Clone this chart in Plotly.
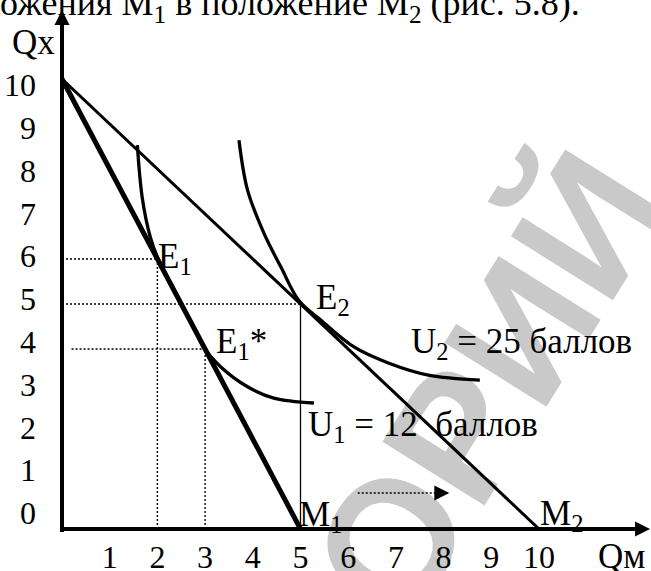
import plotly.graph_objects as go

# --- данные ---
# бюджетные линии
m1_x = [0, 5]
m1_y = [10, 0]
m2_x = [0, 10]
m2_y = [10, 0]

# кривые безразличия
u1_x = [1.58, 1.68, 1.85, 2.0, 2.34, 2.76, 2.97, 3.33, 3.89, 4.44, 5.28]
u1_y = [8.53, 7.38, 6.49, 6.04, 5.31, 4.49, 4.04, 3.6, 3.16, 2.91, 2.8]
u2_x = [3.71, 3.89, 4.23, 4.59, 4.97, 5.43, 6.13, 6.84, 7.68, 8.76]
u2_y = [8.64, 7.53, 6.58, 5.82, 5.07, 4.64, 4.04, 3.69, 3.42, 3.31]

# точки равновесия
e1 = (2, 6)
e1s = (3, 4)
e2 = (5, 5)

# пунктирная стрелка сдвига M1 -> M2
shift_x = [6.2, 8.1]
shift_y = [0.8, 0.8]

x_ticks = [1, 2, 3, 4, 5, 6, 7, 8, 9, 10]
y_ticks = [0, 1, 2, 3, 4, 5, 6, 7, 8, 9, 10]

# --- геометрия картинки (пиксели) ---
W, H = 651, 571
ML, MB = 45, 33
X0_PX, UX = 62, 47.7      # где X=0 и сколько px на единицу
Y0_PX, UY = 529, 45.0     # где Y=0
LBL0_PX, LUY = 513, 42.8  # подписи оси Qx немного «уплывают» вверх

plot_bottom = H - MB
plot_w = W - ML
x_range = [(ML - X0_PX) / UX, (W - X0_PX) / UX]
y_range = [(Y0_PX - plot_bottom) / UY, Y0_PX / UY]
y2_range = [(LBL0_PX - plot_bottom) / LUY, LBL0_PX / LUY]

def px_x(p):
    return (p - ML) / plot_w

def px_y(p):
    return 1 - p / plot_bottom

FONT = '"Liberation Serif", "Times New Roman", Tinos, serif'
BLACK = "black"
FS_TICK = 32
FS_LBL = 35

fig = go.Figure()

def line(x, y, width, dash=None, shape="linear"):
    fig.add_trace(go.Scatter(x=x, y=y, mode="lines", hoverinfo="skip",
                             line=dict(color=BLACK, width=width, dash=dash, shape=shape)))

# вспомогательные пунктиры
dots = "2px,2px"
line([0, e1[0]], [e1[1], e1[1]], 1.4, dots)
line([e1[0], e1[0]], [0, e1[1]], 1.4, dots)
line([0, e2[0]], [e2[1], e2[1]], 1.4, dots)
line([0.2, e1s[0]], [e1s[1], e1s[1]], 1.4, dots)
line([e1s[0], e1s[0]], [0, e1s[1]], 1.4, dots)
line([e2[0], e2[0]], [0, e2[1]], 1.3)
line(shift_x, shift_y, 1.4, dots)

# бюджетные линии и кривые безразличия
line(m2_x, m2_y, 3)
line(m1_x, m1_y, 5)
line(u1_x, u1_y, 3.3, shape="spline")
line(u2_x, u2_y, 3.3, shape="spline")

ann = []

def label(x, y, text, ref="", anchor="left"):
    ann.append(dict(x=x, y=y, xref=ref or "x", yref=ref or "y", text=text, showarrow=False,
                    xanchor=anchor, yanchor="middle",
                    font=dict(family=FONT, size=FS_LBL, color=BLACK)))

label(1.98, 6.02, "E<sub>1</sub>")
label(3.18, 4.13, "E<sub>1</sub>*")
label(5.28, 5.09, "E<sub>2</sub>")
label(7.28, 4.13, "U<sub>2</sub> = 25 баллов")
label(5.12, 2.27, "U<sub>1</sub> = 12 \u00a0баллов")
label(4.93, 0.27, "M<sub>1</sub>")
label(9.98, 0.29, "M<sub>2</sub>")
label(px_x(596), px_y(556), "Qм", ref="paper")
label(px_x(33), px_y(43), "Qx", ref="paper", anchor="center")

# оси со стрелками
ann.append(dict(x=0, y=(Y0_PX - 10) / UY, ax=0, ay=-0.1, xref="x", yref="y",
                axref="x", ayref="y", text="", showarrow=True, arrowhead=2,
                arrowsize=0.75, arrowwidth=4, arrowcolor=BLACK, standoff=0))
ann.append(dict(x=(W - X0_PX) / UX - 0.02, y=0, ax=-0.05, ay=0, xref="x", yref="y",
                axref="x", ayref="y", text="", showarrow=True, arrowhead=2,
                arrowsize=0.75, arrowwidth=4, arrowcolor=BLACK, standoff=0))
# наконечник пунктирной стрелки
ann.append(dict(x=shift_x[1] + 0.02, y=shift_y[1], ax=shift_x[1] - 0.3, ay=shift_y[1],
                xref="x", yref="y", axref="x", ayref="y", text="", showarrow=True,
                arrowhead=2, arrowsize=2, arrowwidth=1.5, arrowcolor=BLACK, standoff=0))

# обрезанная строка текста над рисунком
ann.append(dict(x=px_x(-2), y=px_y(30), xref="paper", yref="paper",
                text="ожения M<sub>1</sub> в положение M<sub>2</sub> (рис. 5.8).",
                showarrow=False, xanchor="left", yanchor="bottom",
                font=dict(family=FONT, size=36, color=BLACK)))

# водяной знак
ann.append(dict(x=px_x(488), y=px_y(385), xref="paper", yref="paper",
                xanchor="center", yanchor="middle",
                text="<b>ОРИЙ</b>", showarrow=False, textangle=-58,
                font=dict(family="Liberation Sans", size=175, color="rgba(0,0,0,0.21)")))

fig.update_layout(
    width=W, height=H,
    margin=dict(l=ML, r=0, t=0, b=MB, autoexpand=False),
    paper_bgcolor="white", plot_bgcolor="white",
    showlegend=False,
    annotations=ann,
    xaxis=dict(range=x_range, showgrid=False, zeroline=False, showline=False,
               automargin=False,
               tickvals=x_ticks, ticktext=[str(v) for v in x_ticks], ticks="",
               ticklabelstandoff=-3,
               tickfont=dict(family=FONT, size=FS_TICK, color=BLACK)),
    yaxis=dict(range=y_range, showgrid=False, zeroline=False, showline=False,
               automargin=False, showticklabels=False),
    yaxis2=dict(range=y2_range, overlaying="y", side="left", showgrid=False,
                zeroline=False, showline=False, automargin=False, tickvals=y_ticks,
                ticktext=[str(v) for v in y_ticks], ticks="",
                ticklabelstandoff=8,
                tickfont=dict(family=FONT, size=FS_TICK, color=BLACK)),
)
# пустой след, чтобы ось подписей отрисовалась
fig.add_trace(go.Scatter(x=[None], y=[None], yaxis="y2", hoverinfo="skip"))

fig.write_html("out.html", config={"displayModeBar": False},
               post_script="document.body.style.margin='0px';")
